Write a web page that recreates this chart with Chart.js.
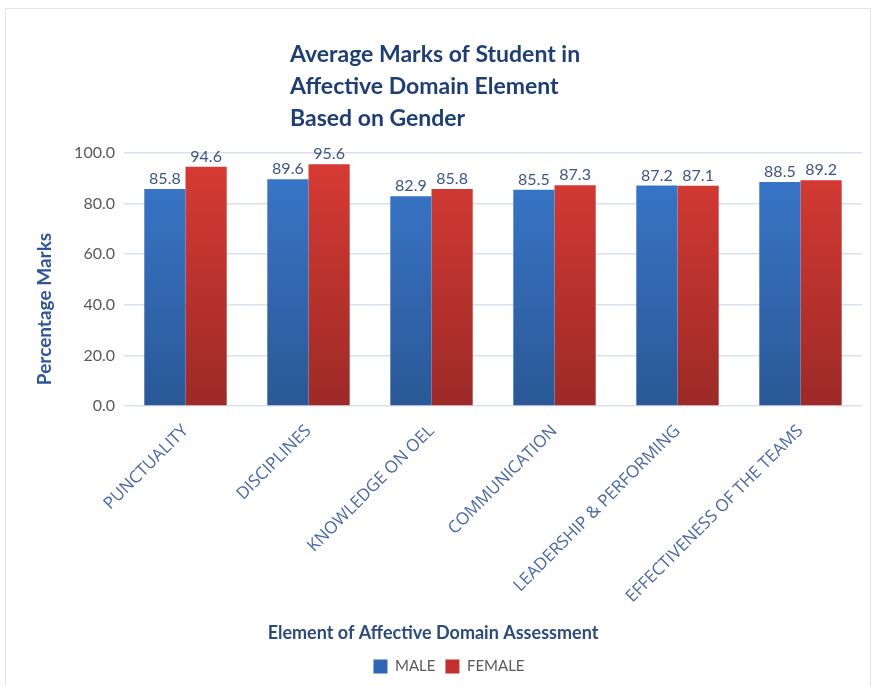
<!DOCTYPE html>
<html>
<head>
<meta charset="utf-8">
<script src="https://cdn.jsdelivr.net/npm/chart.js@4"></script>
<style>
  body { margin: 0; background: #fff; }
  #wrap { position: relative; width: 881px; height: 686px; }
  #frame { position: absolute; left: 5px; top: 8px; width: 866px; height: 700px;
           border: 1px solid #e4e4e4; box-sizing: border-box; pointer-events: none; }
</style>
</head>
<body>
<div id="wrap">
  <div id="frame"></div>
  <canvas id="c" width="881" height="686"></canvas>
</div>
<script>
// data
const categories = ["PUNCTUALITY", "DISCIPLINES", "KNOWLEDGE ON OEL", "COMMUNICATION",
                    "LEADERSHIP & PERFORMING", "EFFECTIVENESS OF THE TEAMS"];
const maleMarks   = [85.8, 89.6, 82.9, 85.5, 87.2, 88.5];
const femaleMarks = [94.6, 95.6, 85.8, 87.3, 87.1, 89.2];
const yTicks = [0, 20, 40, 60, 80, 100];

const titleLines = ["Average Marks of Student in", "Affective Domain Element", "Based on Gender"];
const xTitle = "Element of Affective Domain Assessment";
const yTitle = "Percentage Marks";

const FONT = "Lato, 'Open Sans', sans-serif";

function grad(ctx, top, bottom) {
  const chart = ctx.chart;
  const a = chart.chartArea;
  if (!a) return top;
  const g = chart.ctx.createLinearGradient(0, a.top, 0, a.bottom);
  g.addColorStop(0, top);
  g.addColorStop(1, bottom);
  return g;
}

// titles + value labels, drawn on the canvas
const extras = {
  id: "extras",
  afterDatasetsDraw(chart) {
    const c = chart.ctx;
    c.save();
    c.font = "16px " + FONT;
    c.fillStyle = "#3b5684";
    c.textAlign = "center";
    c.textBaseline = "bottom";
    chart.data.datasets.forEach((ds, i) => {
      chart.getDatasetMeta(i).data.forEach((bar, j) => {
        c.fillText(ds.data[j].toFixed(1), bar.x, bar.y - 2);
      });
    });
    c.restore();
  },
  afterDraw(chart) {
    const c = chart.ctx;
    c.save();
    // main title, left aligned block
    c.font = "bold 23px " + FONT;
    c.fillStyle = "#1f3f72";
    c.textAlign = "left";
    c.textBaseline = "middle";
    titleLines.forEach((t, i) => c.fillText(t, 290, 55 + i * 32));
    // x axis title
    c.font = "bold 18px " + FONT;
    c.fillStyle = "#2d4a7c";
    c.textAlign = "center";
    c.fillText(xTitle, 433, 633);
    // y axis title
    c.translate(45, 309);
    c.rotate(-Math.PI / 2);
    c.font = "bold 19px " + FONT;
    c.fillStyle = "#2e5597";
    c.fillText(yTitle, 0, 0);
    c.restore();
  }
};

new Chart(document.getElementById("c"), {
  type: "bar",
  data: {
    labels: categories,
    datasets: [
      {
        label: "MALE",
        data: maleMarks,
        backgroundColor: ctx => grad(ctx, "#3a78cc", "#2a5896"),
        borderWidth: 0
      },
      {
        label: "FEMALE",
        data: femaleMarks,
        backgroundColor: ctx => grad(ctx, "#d93b34", "#9c2a27"),
        borderWidth: 0
      }
    ]
  },
  options: {
    responsive: false,
    animation: false,
    layout: { padding: { left: 36, right: 19, top: 153, bottom: 2 } },
    datasets: { bar: { barPercentage: 1, categoryPercentage: 0.67 } },
    scales: {
      x: {
        grid: { display: false },
        border: { display: false },
        ticks: {
          color: "#4767a3",
          font: { family: "'Open Sans', sans-serif", size: 17 },
          minRotation: 45,
          maxRotation: 45,
          padding: 7
        },
        afterFit(scale) { scale.height = 243; }
      },
      y: {
        min: 0,
        max: 100,
        afterBuildTicks(scale) { scale.ticks = yTicks.map(v => ({ value: v })); },
        grid: { color: "#d9e1ee", lineWidth: 1.5, drawTicks: false },
        border: { display: false },
        ticks: {
          color: "#595959",
          font: { family: FONT, size: 16 },
          padding: 9,
          callback: v => Number(v).toFixed(1)
        },
        afterFit(scale) { scale.width = 88; }
      }
    },
    plugins: {
      legend: {
        position: "bottom",
        labels: {
          color: "#595959",
          font: { family: FONT, size: 15 },
          boxWidth: 14,
          boxHeight: 14,
          padding: 10,
          generateLabels(chart) {
            const cols = ["#2f66b3", "#c3312c"];
            return chart.data.datasets.map((ds, i) => ({
              text: ds.label, fillStyle: cols[i], strokeStyle: cols[i],
              lineWidth: 0, datasetIndex: i, fontColor: "#595959"
            }));
          }
        }
      },
      title: { display: false },
      tooltip: { enabled: false }
    }
  },
  plugins: [extras]
});
</script>
</body>
</html>
